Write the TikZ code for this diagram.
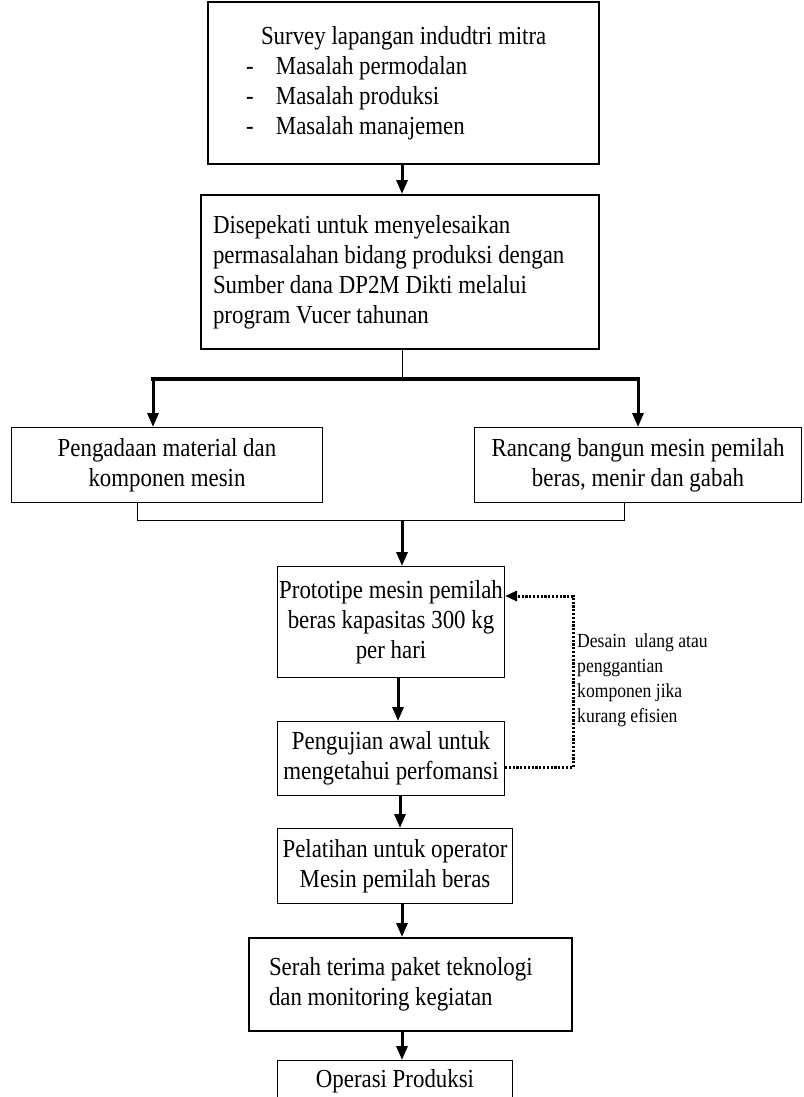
\documentclass[tikz,border=0pt]{standalone}
\usepackage{fontspec}
\setmainfont{Liberation Serif}[FakeStretch=0.88]
\usetikzlibrary{arrows.meta,positioning}
\hyphenpenalty=10000

\begin{document}
\begin{tikzpicture}[
  x=1pt,y=-1pt,
  font=\fontsize{26}{30}\selectfont,
  box/.style={draw,line width=1pt,align=center,inner sep=0pt,anchor=north west},
  bigbox/.style={box,line width=2pt,align=flush left},
  arr/.style={-{Triangle[length=14pt,width=11pt]},line width=3pt},
  link/.style={line width=0.8pt},
  bar/.style={line width=4pt,line cap=rect},
  fb/.style={line width=3pt,dash pattern=on 2.2pt off 1.6pt,
             -{Triangle[length=12pt,width=10pt]}},
  note/.style={align=left,inner sep=0pt,anchor=west,font=\fontsize{20}{25}\selectfont}
]
\useasboundingbox (0,0) rectangle (803,1097);
\clip (0,0) rectangle (803,1097);

% survey and agreement
\node[bigbox,minimum width=391pt,minimum height=162pt,inner xsep=38pt,text width=315pt]
  (survey) at (207,1) {\hspace*{15pt}Survey lapangan indudtri mitra\\
  \makebox[30pt][l]{-}Masalah permodalan\\
  \makebox[30pt][l]{-}Masalah produksi\\
  \makebox[30pt][l]{-}Masalah manajemen};
\node[bigbox,minimum width=398pt,minimum height=154pt,inner xsep=12pt,text width=374pt]
  (sepakat) at (200,194) {Disepekati untuk menyelesaikan\\
  permasalahan bidang produksi dengan\\
  Sumber dana DP2M Dikti melalui\\
  program Vucer tahunan};

% two parallel jobs
\node[box,minimum width=311pt,minimum height=75pt] (material) at (11,427)
  {Pengadaan material dan\\komponen mesin};
\node[box,minimum width=327pt,minimum height=75pt] (rancang) at (474,427)
  {Rancang bangun mesin pemilah\\beras, menir dan gabah};

% main chain
\node[box,minimum width=227pt,minimum height=111pt] (proto) at (277,566)
  {Prototipe mesin pemilah\\beras kapasitas 300 kg\\per hari};
\node[box,minimum width=227pt,minimum height=74pt] (uji) at (277,721)
  {Pengujian awal untuk\\mengetahui perfomansi};
\node[box,minimum width=235pt,minimum height=75pt] (latih) at (277,828)
  {Pelatihan untuk operator\\Mesin pemilah beras};
\node[bigbox,minimum width=323pt,minimum height=93pt,inner xsep=20pt,text width=283pt]
  (serah) at (248,937) {Serah terima paket teknologi\\dan monitoring kegiatan};
\node[box,minimum width=235pt,minimum height=41pt] (operasi) at (277,1060)
  {Operasi Produksi};

\node[note] (ulang) at (577,680)
  {Desain\ \ ulang atau\\penggantian\\komponen jika\\kurang efisien};

% connectors
\coordinate (col) at (402,0);
\coordinate (fork) at (402,379);
\coordinate (forkL) at (153,379);
\coordinate (forkR) at (638,379);
\coordinate (joinL) at (137,520);
\coordinate (joinR) at (624,520);
\coordinate (join) at (402,520);

\draw[arr] (survey.south -| col) -- (sepakat.north -| col);
\draw[link] (sepakat.south -| col) -- (fork);
\draw[bar] (forkL) -- (forkR);
\draw[arr] (forkL) -- (forkL |- material.north);
\draw[arr] (forkR) -- (forkR |- rancang.north);
\draw[link] (joinL |- material.south) -- (joinL) -- (joinR) -- (joinR |- rancang.south);
\draw[arr] (join) -- (join |- proto.north);
\draw[arr] ([xshift=-4pt]proto.south -| col) -- ([xshift=-4pt]uji.north -| col);
\draw[arr] ([xshift=-2pt]uji.south -| col) -- ([xshift=-2pt]latih.north -| col);
\draw[arr] (latih.south -| col) -- (serah.north -| col);
\draw[arr] (serah.south -| col) -- (operasi.north -| col);
\draw[fb] ([yshift=-9pt]uji.east) -- ++(68,0) |- ([yshift=26pt]proto.east);
\end{tikzpicture}
\end{document}
